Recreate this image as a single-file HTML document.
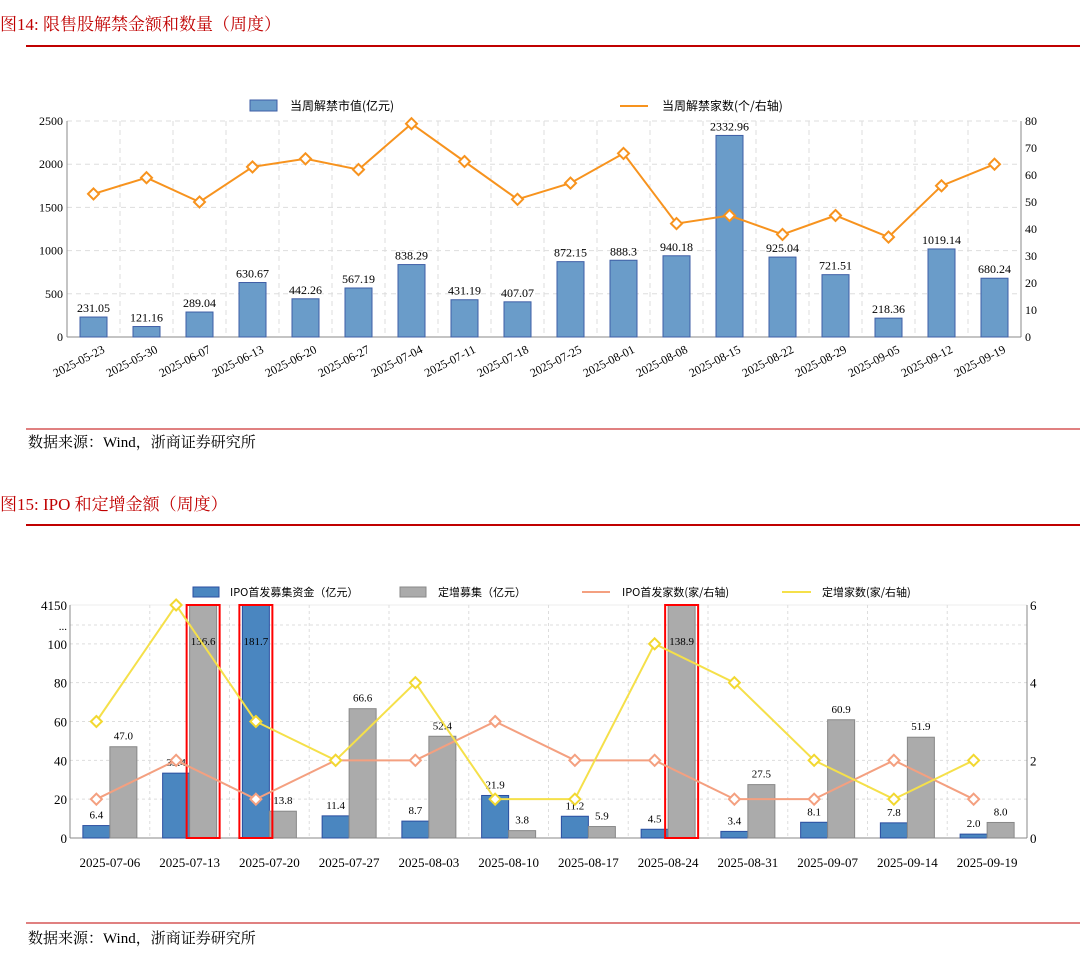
<!DOCTYPE html>
<html><head><meta charset="utf-8"><style>
body{margin:0;background:#fff;width:1080px;height:954px;overflow:hidden;font-family:"Liberation Serif","Noto Serif CJK SC",serif}
svg{position:absolute;left:0;top:0}
</style></head><body>
<svg id="s" width="1080" height="954" xmlns="http://www.w3.org/2000/svg"></svg>
<script>
const cats1=["2025-05-23","2025-05-30","2025-06-07","2025-06-13","2025-06-20","2025-06-27","2025-07-04","2025-07-11","2025-07-18","2025-07-25","2025-08-01","2025-08-08","2025-08-15","2025-08-22","2025-08-29","2025-09-05","2025-09-12","2025-09-19"];
const unlockValue=[231.05,121.16,289.04,630.67,442.26,567.19,838.29,431.19,407.07,872.15,888.3,940.18,2332.96,925.04,721.51,218.36,1019.14,680.24];
const unlockLabels=["231.05","121.16","289.04","630.67","442.26","567.19","838.29","431.19","407.07","872.15","888.3","940.18","2332.96","925.04","721.51","218.36","1019.14","680.24"];
const unlockCount=[53,59,50,63,66,62,79,65,51,57,68,42,45,38,45,37,56,64];
const leftTicks1=[0,500,1000,1500,2000,2500];
const rightTicks1=[0,10,20,30,40,50,60,70,80];

const cats2=["2025-07-06","2025-07-13","2025-07-20","2025-07-27","2025-08-03","2025-08-10","2025-08-17","2025-08-24","2025-08-31","2025-09-07","2025-09-14","2025-09-19"];
const ipoAmt=[6.4,33.4,181.7,11.4,8.7,21.9,11.2,4.5,3.4,8.1,7.8,2.0];
const placeAmt=[47.0,136.6,13.8,66.6,52.4,3.8,5.9,138.9,27.5,60.9,51.9,8.0];
const ipoCount=[1,2,1,2,2,3,2,2,1,1,2,1];
const placeCount=[3,6,3,2,4,1,1,5,4,2,1,2];
const leftTicks2=[0,20,40,60,80,100];
const rightTicks2=[0,2,4,6];

const S=document.getElementById('s');const NS="http://www.w3.org/2000/svg";
function el(t,a,txt){const e=document.createElementNS(NS,t);for(const k in a)e.setAttribute(k,a[k]);if(txt!==undefined)e.textContent=txt;S.appendChild(e);return e;}
function diamond(x,y,c,name){const e=el('path',{d:`M${x} ${y-5.5}L${x+5.5} ${y}L${x} ${y+5.5}L${x-5.5} ${y}Z`,fill:'#fff',stroke:c,'stroke-width':2});

}

let e;
e=el('text',{x:0,y:30,fill:'#c00000','font-size':17},'图14:  限售股解禁金额和数量（周度）');


el('line',{x1:26,y1:46,x2:1080,y2:46,stroke:'#c00000','stroke-width':2});
el('line',{x1:26,y1:429,x2:1080,y2:429,stroke:'#c00000','stroke-width':1});
e=el('text',{x:28,y:447,fill:'#000','font-size':15},'数据来源：Wind，浙商证券研究所');


e=el('text',{x:0,y:510,fill:'#c00000','font-size':17},'图15:  IPO 和定增金额（周度）');


el('line',{x1:26,y1:525,x2:1080,y2:525,stroke:'#c00000','stroke-width':2});
el('line',{x1:26,y1:923,x2:1080,y2:923,stroke:'#c00000','stroke-width':1});
e=el('text',{x:28,y:943,fill:'#000','font-size':15},'数据来源：Wind，浙商证券研究所');



// ===== chart 1 =====
const L1=67,R1=1021,T1=121,B1=337;const bw1=(R1-L1)/cats1.length;
const y1=v=>B1-(v/2500)*(B1-T1);const y1r=v=>B1-(v/80)*(B1-T1);const x1=i=>L1+bw1*(i+0.5);
leftTicks1.forEach(t=>{if(t>0)el('line',{x1:L1,y1:y1(t),x2:R1,y2:y1(t),stroke:'#ddd','stroke-dasharray':'5,4'});
e=el('text',{x:L1-4,y:y1(t)+4,'text-anchor':'end','font-size':12},t);

});
for(let i=1;i<cats1.length;i++)el('line',{x1:L1+bw1*i,y1:T1,x2:L1+bw1*i,y2:B1,stroke:'#ddd','stroke-dasharray':'5,4'});
rightTicks1.forEach(t=>{e=el('text',{x:R1+4,y:y1r(t)+4,'font-size':12},t);

});
el('line',{x1:L1,y1:T1,x2:L1,y2:B1,stroke:'#888'});el('line',{x1:R1,y1:T1,x2:R1,y2:B1,stroke:'#888'});el('line',{x1:L1,y1:B1,x2:R1,y2:B1,stroke:'#888'});
unlockValue.forEach((v,i)=>{const w=27;e=el('rect',{x:x1(i)-w/2,y:y1(v),width:w,height:B1-y1(v),fill:'#6a9cc9',stroke:'#3e5ea6','stroke-width':1});


e=el('text',{x:x1(i),y:y1(v)-5,'text-anchor':'middle','font-size':12},unlockLabels[i]);


e=el('text',{x:0,y:0,'text-anchor':'end','font-size':12,transform:`translate(${x1(i)+12},${B1+15}) rotate(-27)`},cats1[i]);

});
e=el('polyline',{points:unlockCount.map((v,i)=>x1(i)+','+y1r(v)).join(' '),fill:'none',stroke:'#f7931e','stroke-width':2});


unlockCount.forEach((v,i)=>diamond(x1(i),y1r(v),'#f7931e','unlock-count-point'));
e=el('rect',{x:250,y:100,width:27,height:11,fill:'#6a9cc9',stroke:'#3e5ea6'});


el('text',{x:290,y:110,'font-size':12,'font-family':'"Noto Sans CJK SC",sans-serif'},'当周解禁市值(亿元)');
e=el('line',{x1:620,y1:106,x2:648,y2:106,stroke:'#f7931e','stroke-width':2});


el('text',{x:662,y:110,'font-size':12,'font-family':'"Noto Sans CJK SC",sans-serif'},'当周解禁家数(个/右轴)');

// ===== chart 2 =====
const L2=70,R2=1027,T2=605,B2=838;const bw2=(R2-L2)/cats2.length;
const y2=v=>{const vv=Math.min(v,120);return B2-(vv/120)*(B2-T2);};const y2r=v=>B2-(v/6)*(B2-T2);const x2=i=>L2+bw2*(i+0.5);
leftTicks2.forEach(t=>{if(t>0)el('line',{x1:L2,y1:y2(t),x2:R2,y2:y2(t),stroke:'#ddd','stroke-dasharray':'3,3'});
e=el('text',{x:L2-3,y:y2(t)+5,'text-anchor':'end','font-size':13},t);

});
el('line',{x1:L2,y1:625,x2:R2,y2:625,stroke:'#ddd','stroke-dasharray':'3,3'});
el('line',{x1:L2,y1:T2,x2:R2,y2:T2,stroke:'#eee'});
el('text',{x:L2-3,y:630,'text-anchor':'end','font-size':11},'...');
el('text',{x:L2-3,y:610,'text-anchor':'end','font-size':13},'4150');
for(let i=1;i<cats2.length;i++)el('line',{x1:L2+bw2*i,y1:T2,x2:L2+bw2*i,y2:B2,stroke:'#ddd','stroke-dasharray':'3,3'});
rightTicks2.forEach(t=>{e=el('text',{x:R2+3,y:y2r(t)+5,'font-size':13},t);

});
el('line',{x1:L2,y1:T2,x2:L2,y2:B2,stroke:'#888'});el('line',{x1:R2,y1:T2,x2:R2,y2:B2,stroke:'#888'});el('line',{x1:L2,y1:B2,x2:R2,y2:B2,stroke:'#888'});
const w2=27;
cats2.forEach((c,i)=>{const cx=x2(i);
const yb=y2(ipoAmt[i]),yg=y2(placeAmt[i]);
e=el('rect',{x:cx-w2,y:yb,width:w2,height:B2-yb,fill:'#4a86c0',stroke:'#2a4ea0'});


e=el('rect',{x:cx,y:yg,width:w2,height:B2-yg,fill:'#ababab',stroke:'#888'});


const lb=ipoAmt[i]>100?T2+40:yb-7, lg=placeAmt[i]>100?T2+40:yg-7;
e=el('text',{x:cx-w2/2,y:lb,'text-anchor':'middle','font-size':11},ipoAmt[i].toFixed(1));


e=el('text',{x:cx+w2/2,y:lg,'text-anchor':'middle','font-size':11},placeAmt[i].toFixed(1));


if(ipoAmt[i]>100){e=el('rect',{x:cx-w2-3,y:T2,width:w2+6,height:B2-T2,fill:'none',stroke:'#ff0000','stroke-width':2});

}
if(placeAmt[i]>100){e=el('rect',{x:cx-3,y:T2,width:w2+6,height:B2-T2,fill:'none',stroke:'#ff0000','stroke-width':2});

}
e=el('text',{x:cx,y:B2+29,'text-anchor':'middle','font-size':13},c);

});
e=el('polyline',{points:ipoCount.map((v,i)=>(x2(i)-w2/2)+','+y2r(v)).join(' '),fill:'none',stroke:'#f4a080','stroke-width':2});


ipoCount.forEach((v,i)=>diamond(x2(i)-w2/2,y2r(v),'#f4a080','ipo-count-point'));
e=el('polyline',{points:placeCount.map((v,i)=>(x2(i)-w2/2)+','+y2r(v)).join(' '),fill:'none',stroke:'#f5e04a','stroke-width':2});


placeCount.forEach((v,i)=>diamond(x2(i)-w2/2,y2r(v),'#f2d830','placement-count-point'));
const lf='"Noto Sans CJK SC",sans-serif';
e=el('rect',{x:193,y:587,width:26,height:10,fill:'#4a86c0',stroke:'#2a4ea0'});


el('text',{x:230,y:596,'font-size':11,'font-family':lf},'IPO首发募集资金（亿元）');
e=el('rect',{x:400,y:587,width:26,height:10,fill:'#ababab',stroke:'#888'});


el('text',{x:438,y:596,'font-size':11,'font-family':lf},'定增募集（亿元）');
e=el('line',{x1:582,y1:592,x2:610,y2:592,stroke:'#f4a080','stroke-width':2});


el('text',{x:622,y:596,'font-size':11,'font-family':lf},'IPO首发家数(家/右轴)');
e=el('line',{x1:782,y1:592,x2:811,y2:592,stroke:'#f5e04a','stroke-width':2});


el('text',{x:822,y:596,'font-size':11,'font-family':lf},'定增家数(家/右轴)');
</script>
</body></html>
